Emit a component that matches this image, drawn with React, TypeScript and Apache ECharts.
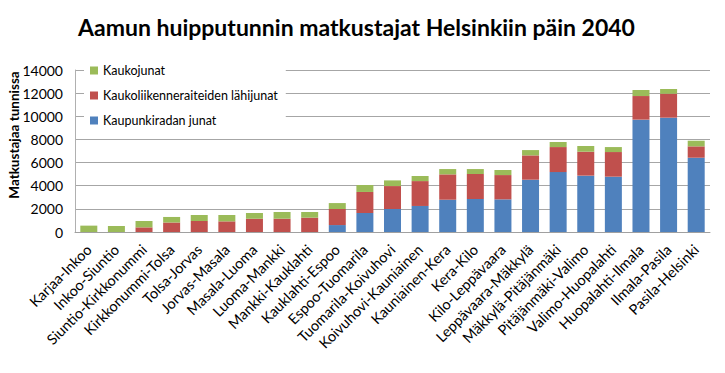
import React, { useEffect, useRef } from "react";
import * as echarts from "echarts";

const categories = [
  "Karjaa-Inkoo",
  "Inkoo-Siuntio",
  "Siuntio-Kirkkonummi",
  "Kirkkonummi-Tolsa",
  "Tolsa-Jorvas",
  "Jorvas-Masala",
  "Masala-Luoma",
  "Luoma-Mankki",
  "Mankki-Kauklahti",
  "Kauklahti-Espoo",
  "Espoo-Tuomarila",
  "Tuomarila-Koivuhovi",
  "Koivuhovi-Kauniainen",
  "Kauniainen-Kera",
  "Kera-Kilo",
  "Kilo-Leppävaara",
  "Leppävaara-Mäkkylä",
  "Mäkkylä-Pitäjänmäki",
  "Pitäjänmäki-Valimo",
  "Valimo-Huopalahti",
  "Huopalahti-Ilmala",
  "Ilmala-Pasila",
  "Pasila-Helsinki",
];

const kaupunkiradanJunat = [0, 0, 0, 0, 0, 0, 0, 0, 0, 600, 1640, 1990, 2250, 2790, 2850, 2820, 4520, 5180, 4870, 4780, 9710, 9880, 6420];
const kaukoliikenneLahijunat = [0, 0, 400, 820, 950, 920, 1150, 1150, 1240, 1390, 1820, 1980, 2150, 2190, 2160, 2100, 2100, 2160, 2070, 2130, 2040, 2070, 980];
const kaukojunat = [550, 520, 550, 480, 520, 550, 490, 580, 490, 510, 600, 490, 440, 460, 430, 440, 460, 440, 490, 430, 520, 410, 490];

const yTicks = { min: 0, max: 14000, interval: 2000 };

const FONT = "Lato, 'Open Sans', sans-serif";

export default function App() {
  const ref = useRef<HTMLDivElement>(null);
  useEffect(() => {
    if (!ref.current) return;
    const chart = echarts.init(ref.current, null, { renderer: "svg" });
    chart.setOption({
      animation: false,
      backgroundColor: "#ffffff",
      textStyle: { fontFamily: FONT },
      title: {
        text: "Aamun huipputunnin matkustajat Helsinkiin päin 2040",
        left: 73,
        top: 10,
        textStyle: { fontFamily: FONT, fontSize: 23, fontWeight: "bold", color: "#000" },
      },
      graphic: [
        {
          type: "text",
          x: 14,
          y: 135,
          rotation: Math.PI / 2,
          style: {
            text: "Matkustajaa tunnissa",
            fontFamily: FONT,
            fontSize: 13.5,
            fontWeight: "bold",
            fill: "#000",
            align: "center",
            verticalAlign: "middle",
          },
        },
      ],
      legend: {
        orient: "vertical",
        left: 84,
        top: 60,
        itemWidth: 8,
        itemHeight: 8,
        itemGap: 12,
        icon: "rect",
        backgroundColor: "#ffffff",
        padding: [4, 8, 4, 6],
        textStyle: { fontFamily: FONT, fontSize: 12.5, color: "#000" },
        data: ["Kaukojunat", "Kaukoliikenneraiteiden lähijunat", "Kaupunkiradan junat"],
      },
      grid: { left: 75, right: 15, top: 70, bottom: 141, containLabel: false },
      xAxis: {
        type: "category",
        data: categories,
        axisLine: { show: true, lineStyle: { color: "#a0a0a0" } },
        axisTick: { show: false },
        axisLabel: {
          interval: 0,
          rotate: 45,
          margin: 15,
          fontFamily: FONT,
          fontSize: 14.5,
          color: "#000",
        },
      },
      yAxis: {
        type: "value",
        min: yTicks.min,
        max: yTicks.max,
        interval: yTicks.interval,
        axisLine: { show: true, lineStyle: { color: "#b0b0b0" } },
        axisTick: { show: false },
        axisLabel: {
          fontFamily: FONT,
          fontSize: 14,
          color: "#000",
          margin: 12,
          formatter: (v: number) => String(v),
        },
        splitLine: { show: true, lineStyle: { color: "#a6a6a6", width: 1 } },
      },
      series: [
        {
          name: "Kaupunkiradan junat",
          type: "bar",
          stack: "total",
          barWidth: 17,
          itemStyle: { color: "#4F81BD" },
          data: kaupunkiradanJunat,
        },
        {
          name: "Kaukoliikenneraiteiden lähijunat",
          type: "bar",
          stack: "total",
          barWidth: 17,
          itemStyle: { color: "#C0504D" },
          data: kaukoliikenneLahijunat,
        },
        {
          name: "Kaukojunat",
          type: "bar",
          stack: "total",
          barWidth: 17,
          itemStyle: { color: "#9BBB59" },
          data: kaukojunat,
        },
      ],
    });
    return () => chart.dispose();
  }, []);
  return (
    <div style={{ position: "fixed", left: 0, top: 0, width: 725, height: 373, background: "#fff" }}>
      <div ref={ref} style={{ width: 725, height: 373 }} />
    </div>
  );
}
